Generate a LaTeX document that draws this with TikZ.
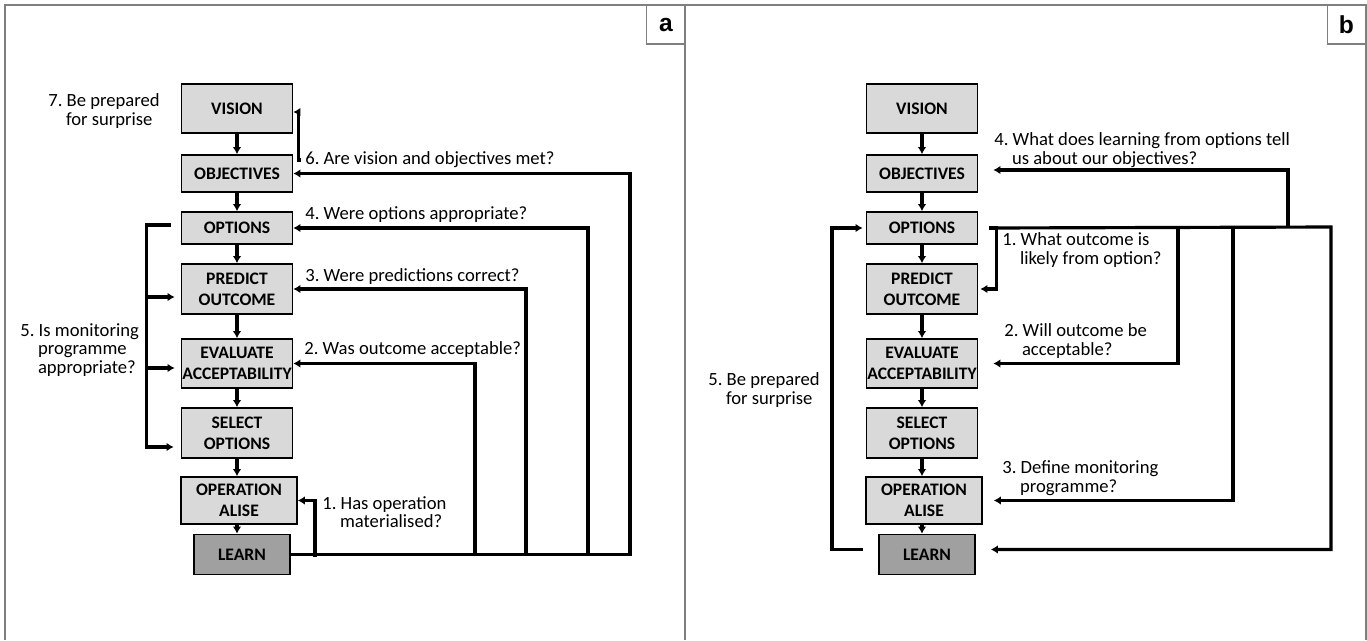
\documentclass[tikz,border=0pt]{standalone}
\usepackage{fontspec}
\setmainfont{Carlito}
\setsansfont{Liberation Sans}
\usepackage{tikz}
\usetikzlibrary{arrows.meta}
\frenchspacing

\definecolor{boxgrey}{HTML}{D9D9D9}
\definecolor{learngrey}{HTML}{A0A0A0}
\definecolor{framegrey}{HTML}{7F7F7F}

\tikzset{
  stage/.style={draw, line width=1.1pt, fill=boxgrey, align=center, inner sep=0pt,
    font=\fontsize{10}{12}\selectfont\bfseries, minimum width=2.22cm},
  fb/.style={line width=1.8pt, -{Latex[length=4pt,width=5pt]}},
  lbl/.style={align=left, inner sep=0pt, anchor=west, font=\fontsize{10.6}{10.6}\selectfont},
  tag/.style={draw=framegrey, line width=0.7pt, inner sep=0pt, minimum width=0.77cm,
    minimum height=0.78cm, font=\sffamily\bfseries\fontsize{14}{14}\selectfont}
}

\newcommand{\ind}{\hspace*{0.95em}}

\begin{document}
\begin{tikzpicture}[x=0.02cm, y=-0.02cm]

        \useasboundingbox (0,0) rectangle (1367,640);
        \draw[framegrey, line width=0.7pt] (5,640) -- (5,5) -- (1366,5) -- (1366,640);
        \draw[framegrey, line width=0.7pt] (685,5) -- (685,640);
        \node[tag] (taga) at (666,24.5) {a};
        \node[tag] (tagb) at (1346.5,24.5) {b};

        \foreach \p/\dx in {A/0,B/685} {
            \node[stage, minimum height=0.98cm] (vision\p) at (237+\dx,108.5) {VISION};
            \node[stage, minimum height=0.74cm] (objectives\p) at (237+\dx,173.5) {OBJECTIVES};
            \node[stage, minimum height=0.64cm] (options\p) at (237+\dx,228) {OPTIONS};
            \node[stage, minimum height=1.0cm] (predict\p) at (237+\dx,289) {PREDICT\\OUTCOME};
            \node[stage, minimum height=0.98cm] (evaluate\p) at (237+\dx,363.5) {EVALUATE\\ACCEPTABILITY};
            \node[stage, minimum height=1.0cm] (select\p) at (237+\dx,433) {SELECT\\OPTIONS};
            \node[stage, minimum height=0.94cm, minimum width=2.32cm] (opera\p) at (239+\dx,500.5) {OPERATION\\ALISE};
            \node[stage, fill=learngrey, minimum height=0.8cm, minimum width=1.92cm] (learn\p) at (242+\dx,554.5) {LEARN};

            \draw[fb] (vision\p) -- (objectives\p);
            \draw[fb] (objectives\p) -- (options\p);
            \draw[fb] (options\p) -- (predict\p);
            \draw[fb] (predict\p) -- (evaluate\p);
            \draw[fb] (evaluate\p) -- (select\p);
            \draw[fb] (select\p.south) -- (select\p.south |- opera\p.north);
            \draw[fb] (select\p.south |- opera\p.south) -- (select\p.south |- learn\p.north);
        }

        \node[lbl] (q7a) at (48,111) {7. Be prepared\\\ind for surprise};
        \node[lbl] (q6a) at (305,160) {6. Are vision and objectives met?};
        \node[lbl] (q4a) at (305,215) {4. Were options appropriate?};
        \node[lbl] (q3a) at (305,277) {3. Were predictions correct?};
        \node[lbl] (q2a) at (304,350) {2. Was outcome acceptable?};
        \node[lbl] (q1a) at (322,512) {1. Has operation\\\ind materialised?};
        \node[lbl] (q5a) at (20,350) {5. Is monitoring\\\ind programme\\\ind appropriate?};

        \coordinate (c0a) at (315,557);
        \coordinate (c1a) at (475,554.5);
        \coordinate (c2a) at (526,554.5);
        \coordinate (c3a) at (588,554.5);
        \coordinate (c4a) at (630,554.5);
        \draw[fb] (learnA.east) -- (c4a) |- (objectivesA.east);
        \draw[fb] (c3a) |- (optionsA.east);
        \draw[fb] (c2a) |- (predictA.east);
        \draw[fb] (c1a) |- (evaluateA.east);
        \draw[fb] (c0a) |- (operaA.east);
        \draw[fb] ([xshift=-0.08cm]q6a.west) -| ([xshift=0.1cm,yshift=-0.07cm]visionA.east) -- ([yshift=-0.07cm]visionA.east);
        \draw[fb] ([shift={(-10,-3)}]optionsA.west) -- ++(-24,0) -- ++(0,222) -- ++(27,0);
        \draw[fb] ([shift={(-33,8)}]predictA.west) -- ++(27,0);
        \draw[fb] ([shift={(-33,4.5)}]evaluateA.west) -- ++(27,0);

        \node[lbl] (q4b) at (994,150) {4. What does learning from options tell\\\ind us about our objectives?};
        \node[lbl] (q1b) at (1002,250) {1. What outcome is\\\ind likely from option?};
        \node[lbl] (q2b) at (1004,341) {2. Will outcome be\\\ind acceptable?};
        \node[lbl] (q3b) at (1002,478) {3. Define monitoring\\\ind programme?};
        \node[lbl] (q5b) at (708,390) {5. Be prepared\\\ind for surprise};

        \coordinate (c2b) at (1178,227);
        \coordinate (c3b) at (1233,227);
        \coordinate (c5b) at (1288,227);
        \coordinate (c4b) at (1331,227);
        \draw[fb] ([xshift=0.22cm]optionsB.east) -- (c4b) |- ([shift={(15,-5)}]learnB.east);
        \draw[fb] ([xshift=0.22cm]optionsB.east) -| ([xshift=0.36cm]predictB.east) -- ([xshift=0.04cm]predictB.east);
        \draw[fb] (c2b) |- ([xshift=0.3cm]evaluateB.east);
        \draw[fb] (c3b) |- ([xshift=0.22cm]operaB.east);
        \draw[fb] (c5b) |- ([shift={(15,-3.5)}]objectivesB.east);
        \draw[fb] ([shift={(-15,-5)}]learnB.west) -- ++(-31,0) |- ([xshift=-0.06cm]optionsB.west);

\end{tikzpicture}
\end{document}
